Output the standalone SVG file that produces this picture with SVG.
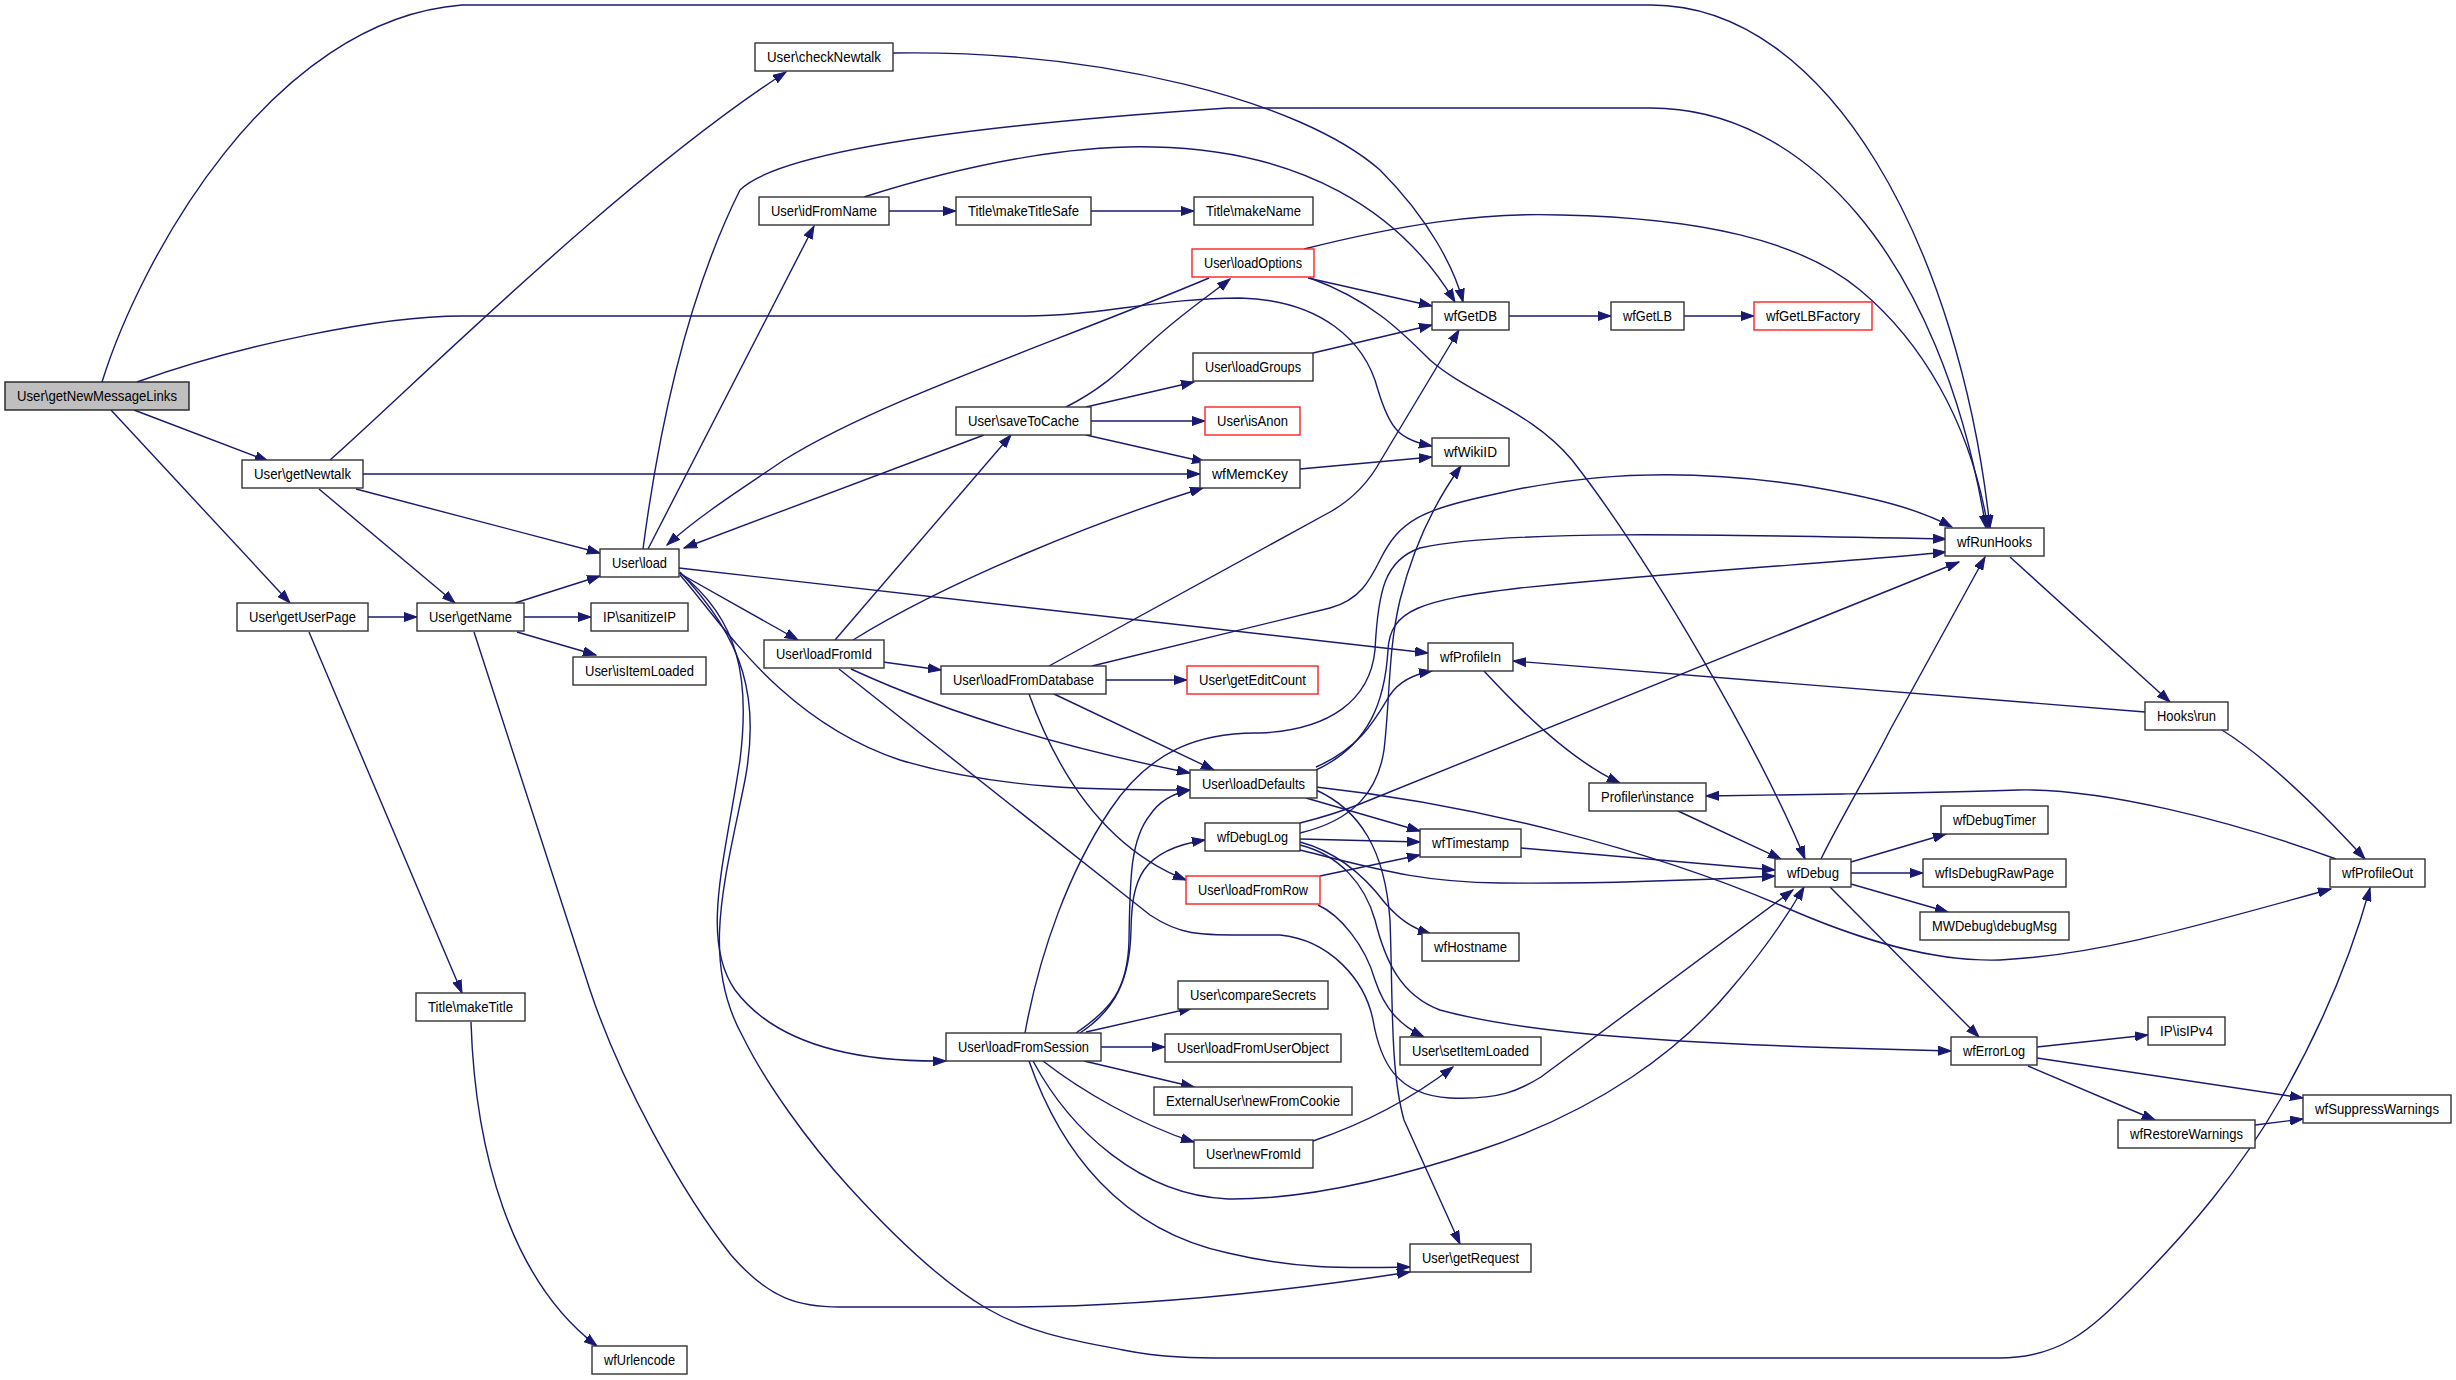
<svg xmlns="http://www.w3.org/2000/svg" width="2456" height="1380" viewBox="0 0 2456 1380">
<style>
.e{fill:none;stroke:#191970;stroke-width:1.4;marker-end:url(#ah)}
.n rect{fill:#fff;stroke:#333;stroke-width:1.4}
.n.r rect{stroke:#ff2020}
.n.g rect{fill:#bfbfbf;stroke:#222}
.n text{font-family:"Liberation Sans",Arial,Helvetica,sans-serif;font-size:14px;fill:#000;text-anchor:middle}
</style>
<defs>
<marker id="ah" markerWidth="14" markerHeight="10" refX="13" refY="5" orient="auto" markerUnits="userSpaceOnUse">
<path d="M0,0.5 L13,5 L0,9.5 z" fill="#191970" stroke="#191970" stroke-width="1"/>
</marker>
</defs>
<rect width="2456" height="1380" fill="#fff"/>
<g id="connectors">
<path class="e" d="M102,382 C140,260 270,20 462,5 L1651,5 C1830,5 1960,250 1990,528"/>
<path class="e" d="M137,382 C240,345 380,316 462,316 L1025,316 C1100,316 1160,298 1240,298 C1320,300 1365,340 1378,390 C1390,430 1400,440 1432,446"/>
<path class="e" d="M134,410 L268,461"/>
<path class="e" d="M111,410 L290,603"/>
<path class="e" d="M330,460 C420,380 620,180 786,72"/>
<path class="e" d="M363,474 L1200,474"/>
<path class="e" d="M356,489 L600,553"/>
<path class="e" d="M319,489 L455,603"/>
<path class="e" d="M893,53 C1100,50 1300,100 1380,170 C1430,220 1455,270 1463,302"/>
<path class="e" d="M889,211 L956,211"/>
<path class="e" d="M1091,211 L1194,211"/>
<path class="e" d="M864,197 C980,160 1080,145 1154,147 C1300,150 1400,210 1455,302"/>
<path class="e" d="M648,549 L814,226"/>
<path class="e" d="M643,549 C660,420 690,290 740,190 C770,160 900,130 1228,108 L1651,108 C1800,108 1940,250 1986,528"/>
<path class="e" d="M679,573 L798,640"/>
<path class="e" d="M680,575 C720,620 780,720 900,760 C1000,790 1100,790 1190,790"/>
<path class="e" d="M680,573 C740,620 750,680 740,760 C725,860 700,940 735,990 C780,1050 870,1062 946,1061"/>
<path class="e" d="M680,572 C745,640 760,700 745,780 C725,880 700,960 743,1037 C765,1082 808,1142 849,1187 C890,1232 940,1281 986,1308 C1032,1335 1083,1342 1123,1350 C1163,1358 1200,1358 1228,1358 L1999,1358 C2060,1358 2090,1330 2130,1290 C2190,1230 2240,1170 2280,1100 C2320,1030 2350,960 2370,888"/>
<path class="e" d="M679,568 L1428,653"/>
<path class="e" d="M515,603 L600,576"/>
<path class="e" d="M524,617 L591,617"/>
<path class="e" d="M517,632 L596,655"/>
<path class="e" d="M474,632 L590,990 C620,1080 680,1190 731,1255 C770,1300 800,1307 840,1307 L1005,1307 C1100,1307 1228,1300 1410,1272"/>
<path class="e" d="M368,617 L417,617"/>
<path class="e" d="M309,632 L462,993"/>
<path class="e" d="M471,1022 C475,1150 510,1280 597,1346"/>
<path class="e" d="M835,640 L1011,435"/>
<path class="e" d="M853,640 C950,580 1100,520 1203,488"/>
<path class="e" d="M883,662 L941,670"/>
<path class="e" d="M851,669 C940,710 1050,745 1190,773"/>
<path class="e" d="M839,669 L1150,915 C1180,935 1200,935 1240,935 L1280,935 C1330,940 1365,980 1373,1020 C1380,1060 1395,1095 1450,1098 C1500,1100 1520,1090 1541,1077 L1793,890"/>
<path class="e" d="M1106,680 L1187,680"/>
<path class="e" d="M1054,694 L1214,770"/>
<path class="e" d="M1029,694 C1060,780 1110,850 1186,880"/>
<path class="e" d="M1049,666 L1330,512 C1355,498 1370,480 1381,460 L1459,330"/>
<path class="e" d="M1092,666 L1330,608 C1360,600 1370,580 1380,560 C1400,520 1420,510 1500,493 C1600,470 1700,470 1800,485 C1880,498 1920,510 1952,527"/>
<path class="e" d="M1209,278 C1050,345 880,400 784,460 C740,490 700,515 667,545"/>
<path class="e" d="M984,435 L684,548"/>
<path class="e" d="M1066,407 C1110,385 1130,360 1150,343 C1180,315 1210,295 1230,279"/>
<path class="e" d="M1086,407 L1194,382"/>
<path class="e" d="M1091,421 L1205,421"/>
<path class="e" d="M1086,435 L1205,462"/>
<path class="e" d="M1308,278 L1432,306"/>
<path class="e" d="M1304,249 C1400,225 1480,212 1561,215 C1700,218 1800,240 1860,290 C1920,340 1970,420 1988,528"/>
<path class="e" d="M1310,278 C1370,300 1400,330 1430,360 C1470,395 1530,410 1572,460 C1650,560 1760,750 1805,859"/>
<path class="e" d="M1313,353 L1432,325"/>
<path class="e" d="M1509,316 L1611,316"/>
<path class="e" d="M1684,316 L1754,316"/>
<path class="e" d="M1300,469 L1432,457"/>
<path class="e" d="M1316,767 C1360,748 1375,720 1390,695 C1400,680 1415,674 1432,671"/>
<path class="e" d="M1316,770 C1370,745 1385,700 1388,650 C1390,610 1420,600 1520,588 C1700,570 1850,562 1946,552"/>
<path class="e" d="M1306,798 L1420,831"/>
<path class="e" d="M1316,790 C1360,810 1385,850 1390,920 C1393,1000 1390,1070 1404,1120 L1460,1244"/>
<path class="e" d="M1316,787 C1480,805 1650,850 1780,905 C1870,945 1940,962 2000,960 C2100,955 2200,925 2331,889"/>
<path class="e" d="M1300,823 C1320,818 1340,812 1360,804 L1959,562"/>
<path class="e" d="M1300,833 C1355,820 1378,790 1384,750 C1390,700 1388,650 1400,600 C1415,540 1440,495 1461,466"/>
<path class="e" d="M1300,839 L1420,842"/>
<path class="e" d="M1300,850 C1380,870 1420,882 1500,883 C1600,884 1700,880 1775,876"/>
<path class="e" d="M1300,842 C1330,850 1360,870 1385,903 C1400,920 1412,928 1431,934"/>
<path class="e" d="M1300,845 C1340,855 1365,885 1375,920 C1385,960 1400,995 1440,1010 C1520,1032 1650,1042 1842,1048 L1951,1051"/>
<path class="e" d="M1318,905 C1340,915 1365,945 1375,980 C1385,1010 1400,1025 1424,1037"/>
<path class="e" d="M1320,876 L1420,855"/>
<path class="e" d="M1521,848 L1775,870"/>
<path class="e" d="M1678,811 L1781,859"/>
<path class="e" d="M1484,671 C1520,710 1570,760 1620,783"/>
<path class="e" d="M2145,712 L1513,661"/>
<path class="e" d="M2222,730 C2270,760 2320,810 2365,859"/>
<path class="e" d="M2010,557 L2170,702"/>
<path class="e" d="M2336,859 C2230,820 2100,788 2018,790 C1960,792 1900,793 1842,794 L1706,796"/>
<path class="e" d="M1821,859 C1840,820 1870,770 1890,730 L1985,557"/>
<path class="e" d="M1851,862 L1946,834"/>
<path class="e" d="M1851,873 L1923,873"/>
<path class="e" d="M1851,884 L1948,912"/>
<path class="e" d="M1830,887 L1979,1037"/>
<path class="e" d="M2037,1047 L2148,1035"/>
<path class="e" d="M2037,1058 L2303,1098"/>
<path class="e" d="M2028,1066 L2155,1120"/>
<path class="e" d="M2255,1125 L2303,1119"/>
<path class="e" d="M1076,1033 C1110,1010 1128,990 1129,940 C1130,880 1130,840 1150,815 C1160,800 1175,793 1190,790"/>
<path class="e" d="M1080,1033 C1115,1010 1130,980 1131,930 C1132,880 1140,850 1205,840"/>
<path class="e" d="M1025,1033 C1040,950 1070,870 1110,810 C1150,750 1200,732 1260,733 C1330,730 1370,700 1375,650 C1378,590 1385,560 1420,548 C1500,530 1700,534 1946,539"/>
<path class="e" d="M1086,1032 L1192,1008"/>
<path class="e" d="M1101,1047 L1165,1047"/>
<path class="e" d="M1084,1061 L1194,1087"/>
<path class="e" d="M1043,1061 C1080,1090 1140,1125 1194,1142"/>
<path class="e" d="M1033,1061 C1070,1130 1140,1195 1228,1199 C1320,1200 1420,1170 1480,1150 C1600,1110 1680,1050 1730,990 C1760,955 1785,920 1804,887"/>
<path class="e" d="M1029,1061 C1060,1150 1120,1230 1228,1253 C1300,1270 1350,1268 1410,1267"/>
<path class="e" d="M1313,1141 C1360,1125 1410,1100 1453,1067"/>
</g>
<g id="n-getNewMessageLinks" class="n g"><rect x="5" y="382" width="184" height="28"/><text x="97" y="400.5" textLength="160" lengthAdjust="spacingAndGlyphs">User\getNewMessageLinks</text></g>
<g id="n-checkNewtalk" class="n"><rect x="755" y="43" width="138" height="28"/><text x="824" y="61.5" textLength="114" lengthAdjust="spacingAndGlyphs">User\checkNewtalk</text></g>
<g id="n-idFromName" class="n"><rect x="759" y="197" width="130" height="28"/><text x="824" y="215.5" textLength="106" lengthAdjust="spacingAndGlyphs">User\idFromName</text></g>
<g id="n-makeTitleSafe" class="n"><rect x="956" y="197" width="135" height="28"/><text x="1023.5" y="215.5" textLength="111" lengthAdjust="spacingAndGlyphs">Title\makeTitleSafe</text></g>
<g id="n-makeName" class="n"><rect x="1194" y="197" width="119" height="28"/><text x="1253.5" y="215.5" textLength="95" lengthAdjust="spacingAndGlyphs">Title\makeName</text></g>
<g id="n-loadOptions" class="n r"><rect x="1192" y="249" width="122" height="28"/><text x="1253" y="267.5" textLength="98" lengthAdjust="spacingAndGlyphs">User\loadOptions</text></g>
<g id="n-wfGetDB" class="n"><rect x="1432" y="302" width="77" height="28"/><text x="1470.5" y="320.5" textLength="53" lengthAdjust="spacingAndGlyphs">wfGetDB</text></g>
<g id="n-wfGetLB" class="n"><rect x="1611" y="302" width="73" height="28"/><text x="1647.5" y="320.5" textLength="49" lengthAdjust="spacingAndGlyphs">wfGetLB</text></g>
<g id="n-wfGetLBFactory" class="n r"><rect x="1754" y="302" width="118" height="28"/><text x="1813" y="320.5" textLength="94" lengthAdjust="spacingAndGlyphs">wfGetLBFactory</text></g>
<g id="n-loadGroups" class="n"><rect x="1193" y="353" width="120" height="28"/><text x="1253" y="371.5" textLength="96" lengthAdjust="spacingAndGlyphs">User\loadGroups</text></g>
<g id="n-isAnon" class="n r"><rect x="1205" y="407" width="95" height="28"/><text x="1252.5" y="425.5" textLength="71" lengthAdjust="spacingAndGlyphs">User\isAnon</text></g>
<g id="n-saveToCache" class="n"><rect x="956" y="407" width="135" height="28"/><text x="1023.5" y="425.5" textLength="111" lengthAdjust="spacingAndGlyphs">User\saveToCache</text></g>
<g id="n-wfWikiID" class="n"><rect x="1432" y="438" width="77" height="28"/><text x="1470.5" y="456.5" textLength="53" lengthAdjust="spacingAndGlyphs">wfWikiID</text></g>
<g id="n-wfMemcKey" class="n"><rect x="1200" y="460" width="100" height="28"/><text x="1250" y="478.5" textLength="76" lengthAdjust="spacingAndGlyphs">wfMemcKey</text></g>
<g id="n-getNewtalk" class="n"><rect x="242" y="460" width="121" height="28"/><text x="302.5" y="478.5" textLength="97" lengthAdjust="spacingAndGlyphs">User\getNewtalk</text></g>
<g id="n-load" class="n"><rect x="600" y="549" width="79" height="28"/><text x="639.5" y="567.5" textLength="55" lengthAdjust="spacingAndGlyphs">User\load</text></g>
<g id="n-getUserPage" class="n"><rect x="237" y="603" width="131" height="28"/><text x="302.5" y="621.5" textLength="107" lengthAdjust="spacingAndGlyphs">User\getUserPage</text></g>
<g id="n-getName" class="n"><rect x="417" y="603" width="107" height="28"/><text x="470.5" y="621.5" textLength="83" lengthAdjust="spacingAndGlyphs">User\getName</text></g>
<g id="n-sanitizeIP" class="n"><rect x="591" y="603" width="97" height="28"/><text x="639.5" y="621.5" textLength="73" lengthAdjust="spacingAndGlyphs">IP\sanitizeIP</text></g>
<g id="n-isItemLoaded" class="n"><rect x="573" y="657" width="133" height="28"/><text x="639.5" y="675.5" textLength="109" lengthAdjust="spacingAndGlyphs">User\isItemLoaded</text></g>
<g id="n-loadFromId" class="n"><rect x="764" y="640" width="120" height="28"/><text x="824" y="658.5" textLength="96" lengthAdjust="spacingAndGlyphs">User\loadFromId</text></g>
<g id="n-loadFromDatabase" class="n"><rect x="941" y="666" width="165" height="28"/><text x="1023.5" y="684.5" textLength="141" lengthAdjust="spacingAndGlyphs">User\loadFromDatabase</text></g>
<g id="n-getEditCount" class="n r"><rect x="1187" y="666" width="131" height="28"/><text x="1252.5" y="684.5" textLength="107" lengthAdjust="spacingAndGlyphs">User\getEditCount</text></g>
<g id="n-wfProfileIn" class="n"><rect x="1428" y="643" width="85" height="28"/><text x="1470.5" y="661.5" textLength="61" lengthAdjust="spacingAndGlyphs">wfProfileIn</text></g>
<g id="n-loadDefaults" class="n"><rect x="1190" y="770" width="127" height="28"/><text x="1253.5" y="788.5" textLength="103" lengthAdjust="spacingAndGlyphs">User\loadDefaults</text></g>
<g id="n-wfDebugLog" class="n"><rect x="1205" y="823" width="95" height="28"/><text x="1252.5" y="841.5" textLength="71" lengthAdjust="spacingAndGlyphs">wfDebugLog</text></g>
<g id="n-loadFromRow" class="n r"><rect x="1186" y="876" width="134" height="28"/><text x="1253" y="894.5" textLength="110" lengthAdjust="spacingAndGlyphs">User\loadFromRow</text></g>
<g id="n-wfTimestamp" class="n"><rect x="1420" y="829" width="101" height="28"/><text x="1470.5" y="847.5" textLength="77" lengthAdjust="spacingAndGlyphs">wfTimestamp</text></g>
<g id="n-profilerInstance" class="n"><rect x="1589" y="783" width="117" height="28"/><text x="1647.5" y="801.5" textLength="93" lengthAdjust="spacingAndGlyphs">Profiler\instance</text></g>
<g id="n-wfDebug" class="n"><rect x="1775" y="859" width="76" height="28"/><text x="1813" y="877.5" textLength="52" lengthAdjust="spacingAndGlyphs">wfDebug</text></g>
<g id="n-wfRunHooks" class="n"><rect x="1945" y="528" width="99" height="28"/><text x="1994.5" y="546.5" textLength="75" lengthAdjust="spacingAndGlyphs">wfRunHooks</text></g>
<g id="n-hooksRun" class="n"><rect x="2145" y="702" width="83" height="28"/><text x="2186.5" y="720.5" textLength="59" lengthAdjust="spacingAndGlyphs">Hooks\run</text></g>
<g id="n-wfDebugTimer" class="n"><rect x="1941" y="806" width="107" height="28"/><text x="1994.5" y="824.5" textLength="83" lengthAdjust="spacingAndGlyphs">wfDebugTimer</text></g>
<g id="n-wfIsDebugRawPage" class="n"><rect x="1923" y="859" width="143" height="28"/><text x="1994.5" y="877.5" textLength="119" lengthAdjust="spacingAndGlyphs">wfIsDebugRawPage</text></g>
<g id="n-debugMsg" class="n"><rect x="1920" y="912" width="149" height="28"/><text x="1994.5" y="930.5" textLength="125" lengthAdjust="spacingAndGlyphs">MWDebug\debugMsg</text></g>
<g id="n-wfProfileOut" class="n"><rect x="2330" y="859" width="95" height="28"/><text x="2377.5" y="877.5" textLength="71" lengthAdjust="spacingAndGlyphs">wfProfileOut</text></g>
<g id="n-wfErrorLog" class="n"><rect x="1951" y="1037" width="86" height="28"/><text x="1994" y="1055.5" textLength="62" lengthAdjust="spacingAndGlyphs">wfErrorLog</text></g>
<g id="n-isIPv4" class="n"><rect x="2148" y="1017" width="77" height="28"/><text x="2186.5" y="1035.5" textLength="53" lengthAdjust="spacingAndGlyphs">IP\isIPv4</text></g>
<g id="n-wfRestoreWarnings" class="n"><rect x="2118" y="1120" width="137" height="28"/><text x="2186.5" y="1138.5" textLength="113" lengthAdjust="spacingAndGlyphs">wfRestoreWarnings</text></g>
<g id="n-wfSuppressWarnings" class="n"><rect x="2303" y="1095" width="148" height="28"/><text x="2377" y="1113.5" textLength="124" lengthAdjust="spacingAndGlyphs">wfSuppressWarnings</text></g>
<g id="n-wfHostname" class="n"><rect x="1422" y="933" width="97" height="28"/><text x="1470.5" y="951.5" textLength="73" lengthAdjust="spacingAndGlyphs">wfHostname</text></g>
<g id="n-setItemLoaded" class="n"><rect x="1400" y="1037" width="141" height="28"/><text x="1470.5" y="1055.5" textLength="117" lengthAdjust="spacingAndGlyphs">User\setItemLoaded</text></g>
<g id="n-getRequest" class="n"><rect x="1410" y="1244" width="121" height="28"/><text x="1470.5" y="1262.5" textLength="97" lengthAdjust="spacingAndGlyphs">User\getRequest</text></g>
<g id="n-compareSecrets" class="n"><rect x="1178" y="981" width="150" height="28"/><text x="1253" y="999.5" textLength="126" lengthAdjust="spacingAndGlyphs">User\compareSecrets</text></g>
<g id="n-loadFromUserObject" class="n"><rect x="1165" y="1034" width="176" height="28"/><text x="1253" y="1052.5" textLength="152" lengthAdjust="spacingAndGlyphs">User\loadFromUserObject</text></g>
<g id="n-newFromCookie" class="n"><rect x="1154" y="1087" width="198" height="28"/><text x="1253" y="1105.5" textLength="174" lengthAdjust="spacingAndGlyphs">ExternalUser\newFromCookie</text></g>
<g id="n-newFromId" class="n"><rect x="1194" y="1140" width="119" height="28"/><text x="1253.5" y="1158.5" textLength="95" lengthAdjust="spacingAndGlyphs">User\newFromId</text></g>
<g id="n-loadFromSession" class="n"><rect x="946" y="1033" width="155" height="28"/><text x="1023.5" y="1051.5" textLength="131" lengthAdjust="spacingAndGlyphs">User\loadFromSession</text></g>
<g id="n-makeTitle" class="n"><rect x="416" y="993" width="109" height="28"/><text x="470.5" y="1011.5" textLength="85" lengthAdjust="spacingAndGlyphs">Title\makeTitle</text></g>
<g id="n-wfUrlencode" class="n"><rect x="592" y="1346" width="95" height="28"/><text x="639.5" y="1364.5" textLength="71" lengthAdjust="spacingAndGlyphs">wfUrlencode</text></g>
</svg>
